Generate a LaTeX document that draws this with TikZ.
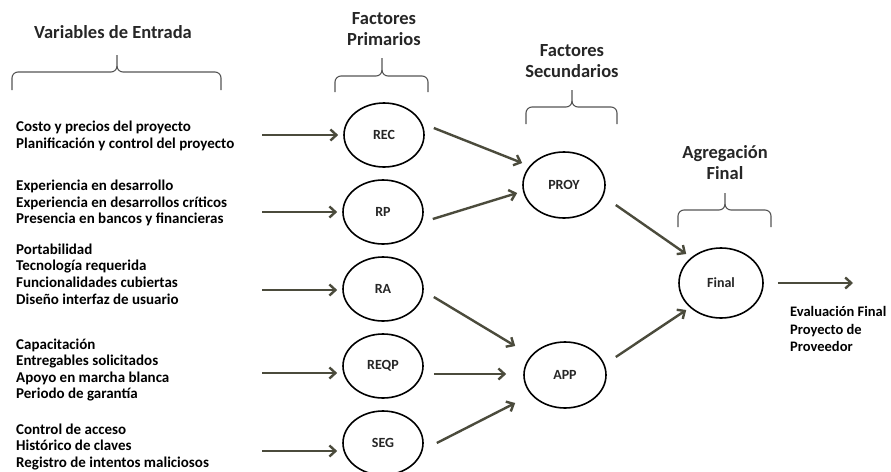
\documentclass[tikz,border=0pt]{standalone}
\usepackage{fontspec}
\setmainfont{Carlito}
\usetikzlibrary{arrows.meta,calc,shapes.geometric}
\definecolor{arrcol}{HTML}{4B4B3C}
\definecolor{bracecol}{HTML}{555555}
\newcommand\mybrace[6]{%
  \draw[bracestyle] (#1,#4) -- (#1,#5+6) to[out=90,in=180] (#1+6,#5) -- (#3-6,#5)
    to[out=0,in=-90] (#3,#5-6) -- (#3,#6);
  \draw[bracestyle] (#3,#5-6) to[out=-90,in=180] (#3+6,#5) -- (#2-6,#5)
    to[out=0,in=90] (#2,#5+6) -- (#2,#4);
}
\tikzset{
  bracestyle/.style={draw=bracecol, line width=1.1pt},
  factor/.style={ellipse, draw=black, line width=1.6pt, minimum width=80pt, minimum height=64pt, inner sep=0pt, font=\bfseries\fontsize{14}{16}\selectfont, text=black!85},
  arr/.style={draw=arrcol, line width=2.4pt, -{Straight Barb[length=6pt,width=11pt]}},
  title/.style={font=\bfseries\fontsize{18.5}{21}\selectfont, align=center, text=black!85},
  inputs/.style={font=\bfseries\fontsize{15}{16.6}\selectfont, align=left, anchor=west, inner sep=0pt},
}
\begin{document}
\begin{tikzpicture}[x=1pt,y=-1pt]
\useasboundingbox (0,0) rectangle (891,471);
% titles
\node[title] (t1) at (113,32) {Variables de Entrada};
\node[title] (t2) at (384,29) {Factores\\Primarios};
\node[title] (t3) at (572,61) {Factores\\Secundarios};
\node[title] (t4) at (725,163) {Agregación\\Final};
% braces
\mybrace{12}{221}{117}{90}{72}{55}
\mybrace{335}{428}{382}{92}{76}{58}
\mybrace{526}{617}{572}{124}{107}{90}
\mybrace{678}{771}{725}{227}{210}{193}
% inputs
\node[inputs] (g1) at (16,136) {Costo y precios del proyecto\\Planificación y control del proyecto};
\node[inputs] (g2) at (16,203) {Experiencia en desarrollo\\Experiencia en desarrollos críticos\\Presencia en bancos y financieras};
\node[inputs] (g3) at (16,274) {Portabilidad\\Tecnología requerida\\Funcionalidades cubiertas\\Diseño interfaz de usuario};
\node[inputs] (g4) at (16,370) {Capacitación\\Entregables solicitados\\Apoyo en marcha blanca\\Periodo de garantía};
\node[inputs] (g5) at (16,447) {Control de acceso\\Histórico de claves\\Registro de intentos maliciosos};
% factor nodes
\node[factor] (REC) at (384,135) {REC};
\node[factor] (RP) at (383,212) {RP};
\node[factor] (RA) at (383,289) {RA};
\node[factor] (REQP) at (383,366) {REQP};
\node[factor] (SEG) at (383,443) {SEG};
\node[factor, minimum width=82pt, minimum height=66pt] (PROY) at (564,185) {PROY};
\node[factor, minimum width=82pt, minimum height=66pt] (APP) at (565,375) {APP};
\node[factor, minimum width=84pt, minimum height=70pt] (FIN) at (721,283) {Final};
% input arrows
\coordinate (i1) at (262,135);
\coordinate (i2) at (262,212);
\coordinate (i3) at (262,290);
\coordinate (i4) at (262,373);
\coordinate (i5) at (262,451);
\draw[arr, shorten >=5pt] (i1) -- (i1 -| REC.west);
\draw[arr, shorten >=5pt] (i2) -- (i2 -| RP.west);
\draw[arr, shorten >=5pt] (i3) -- (i3 -| RA.west);
\draw[arr, shorten >=5pt] (i4) -- (i4 -| REQP.west);
\draw[arr, shorten >=5pt] (i5) -- (i5 -| SEG.west);
% to secondary
\draw[arr] ($(REC.east)+(9,-7)$) -- ($(PROY.west)+(0,-22)$);
\draw[arr] ($(RP.east)+(9,7)$) -- ($(PROY.west)+(-5,8)$);
\draw[arr] ($(RA.east)+(10,8)$) -- ($(APP.west)+(-8,-29)$);
\draw[arr] ($(REQP.east)+(10,8)$) -- ($(APP.west)+(-17,-1)$);
\draw[arr] ($(SEG.east)+(13,0)$) -- ($(APP.west)+(-8,28)$);
% to final
\draw[arr] ($(PROY.east)+(10,20)$) -- ($(FIN.west)+(8,-29)$);
\draw[arr] ($(APP.east)+(9,-18)$) -- ($(FIN.west)+(8,27)$);
\coordinate (out) at (853,283);
\draw[arr] ($(FIN.east)+(14,0)$) -- (out);
\node[inputs, font=\bfseries\fontsize{14.5}{17.5}\selectfont] (res) at (790,329) {Evaluación Final\\Proyecto de\\Proveedor};
\end{tikzpicture}
\end{document}
